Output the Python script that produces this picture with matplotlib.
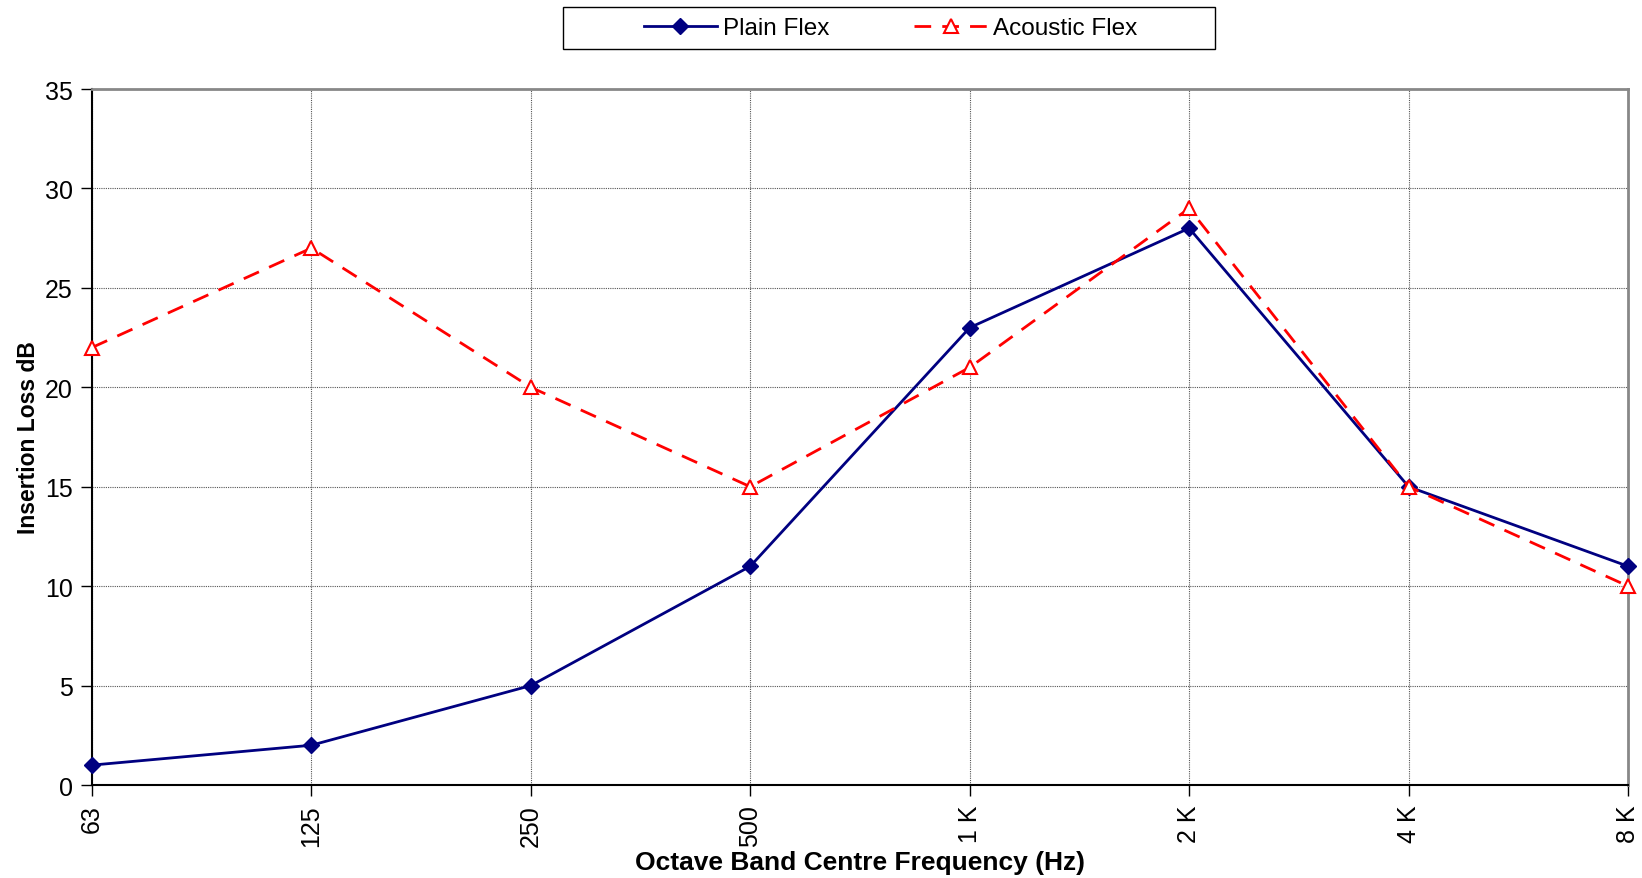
import matplotlib
matplotlib.use('Agg')
import matplotlib.pyplot as plt
from matplotlib.patches import Rectangle

plt.rcParams['font.family'] = ['Liberation Sans', 'DejaVu Sans']

bands = ["63", "125", "250", "500", "1 K", "2 K", "4 K", "8 K"]
plain_flex = [1, 2, 5, 11, 23, 28, 15, 11]
acoustic_flex = [22, 27, 20, 15, 21, 29, 15, 10]

fig = plt.figure(figsize=(16.42, 8.79), dpi=100)
ax = fig.add_axes([0.056, 0.1058, 0.9355, 0.7918])

x = list(range(len(bands)))
ax.plot(x, plain_flex, color="#000080", linewidth=2, marker="D", markersize=8,
        label="Plain Flex", zorder=3, clip_on=False)
ax.plot(x, acoustic_flex, color="#ff0000", linewidth=2, linestyle=(0, (6, 4)),
        marker="^", markersize=10, markerfacecolor="white", markeredgecolor="#ff0000",
        markeredgewidth=1.5, label="Acoustic Flex", zorder=4, clip_on=False)

ax.set_xlim(0, len(bands) - 1)
ax.set_ylim(0, 35)
ax.set_yticks(range(0, 36, 5))
ax.set_xticks(x)
ax.set_xticklabels(bands, rotation=90)
ax.tick_params(axis="both", labelsize=18, direction="out", length=8, width=1,
               color="black", pad=6)
ax.grid(True, color="#555555", linestyle=(0, (1, 1)), linewidth=0.8)
ax.set_axisbelow(True)

for side in ["top", "right"]:
    ax.spines[side].set_color("#888888")
    ax.spines[side].set_linewidth(2)
for side in ["left", "bottom"]:
    ax.spines[side].set_color("black")
    ax.spines[side].set_linewidth(1.5)

ax.set_xlabel("Octave Band Centre Frequency (Hz)", fontsize=19, fontweight="bold", labelpad=3)
ax.set_ylabel("Insertion Loss dB", fontsize=16.5, fontweight="bold", labelpad=3)

# legend box drawn like the spreadsheet one: wide, thin border
fig.patches.append(Rectangle((563 / 1642, 1 - 50 / 879), 652 / 1642, 42 / 879,
                             transform=fig.transFigure, fill=False,
                             edgecolor="black", linewidth=1))
fig.legend(loc="center", bbox_to_anchor=(0.5424, 1 - 29 / 879), ncol=2, fontsize=17.5,
           frameon=False, handlelength=3, handletextpad=0.25, columnspacing=3.5,
           borderaxespad=0)

fig.savefig("out.png", dpi=100, facecolor="white")
plt.close(fig)
